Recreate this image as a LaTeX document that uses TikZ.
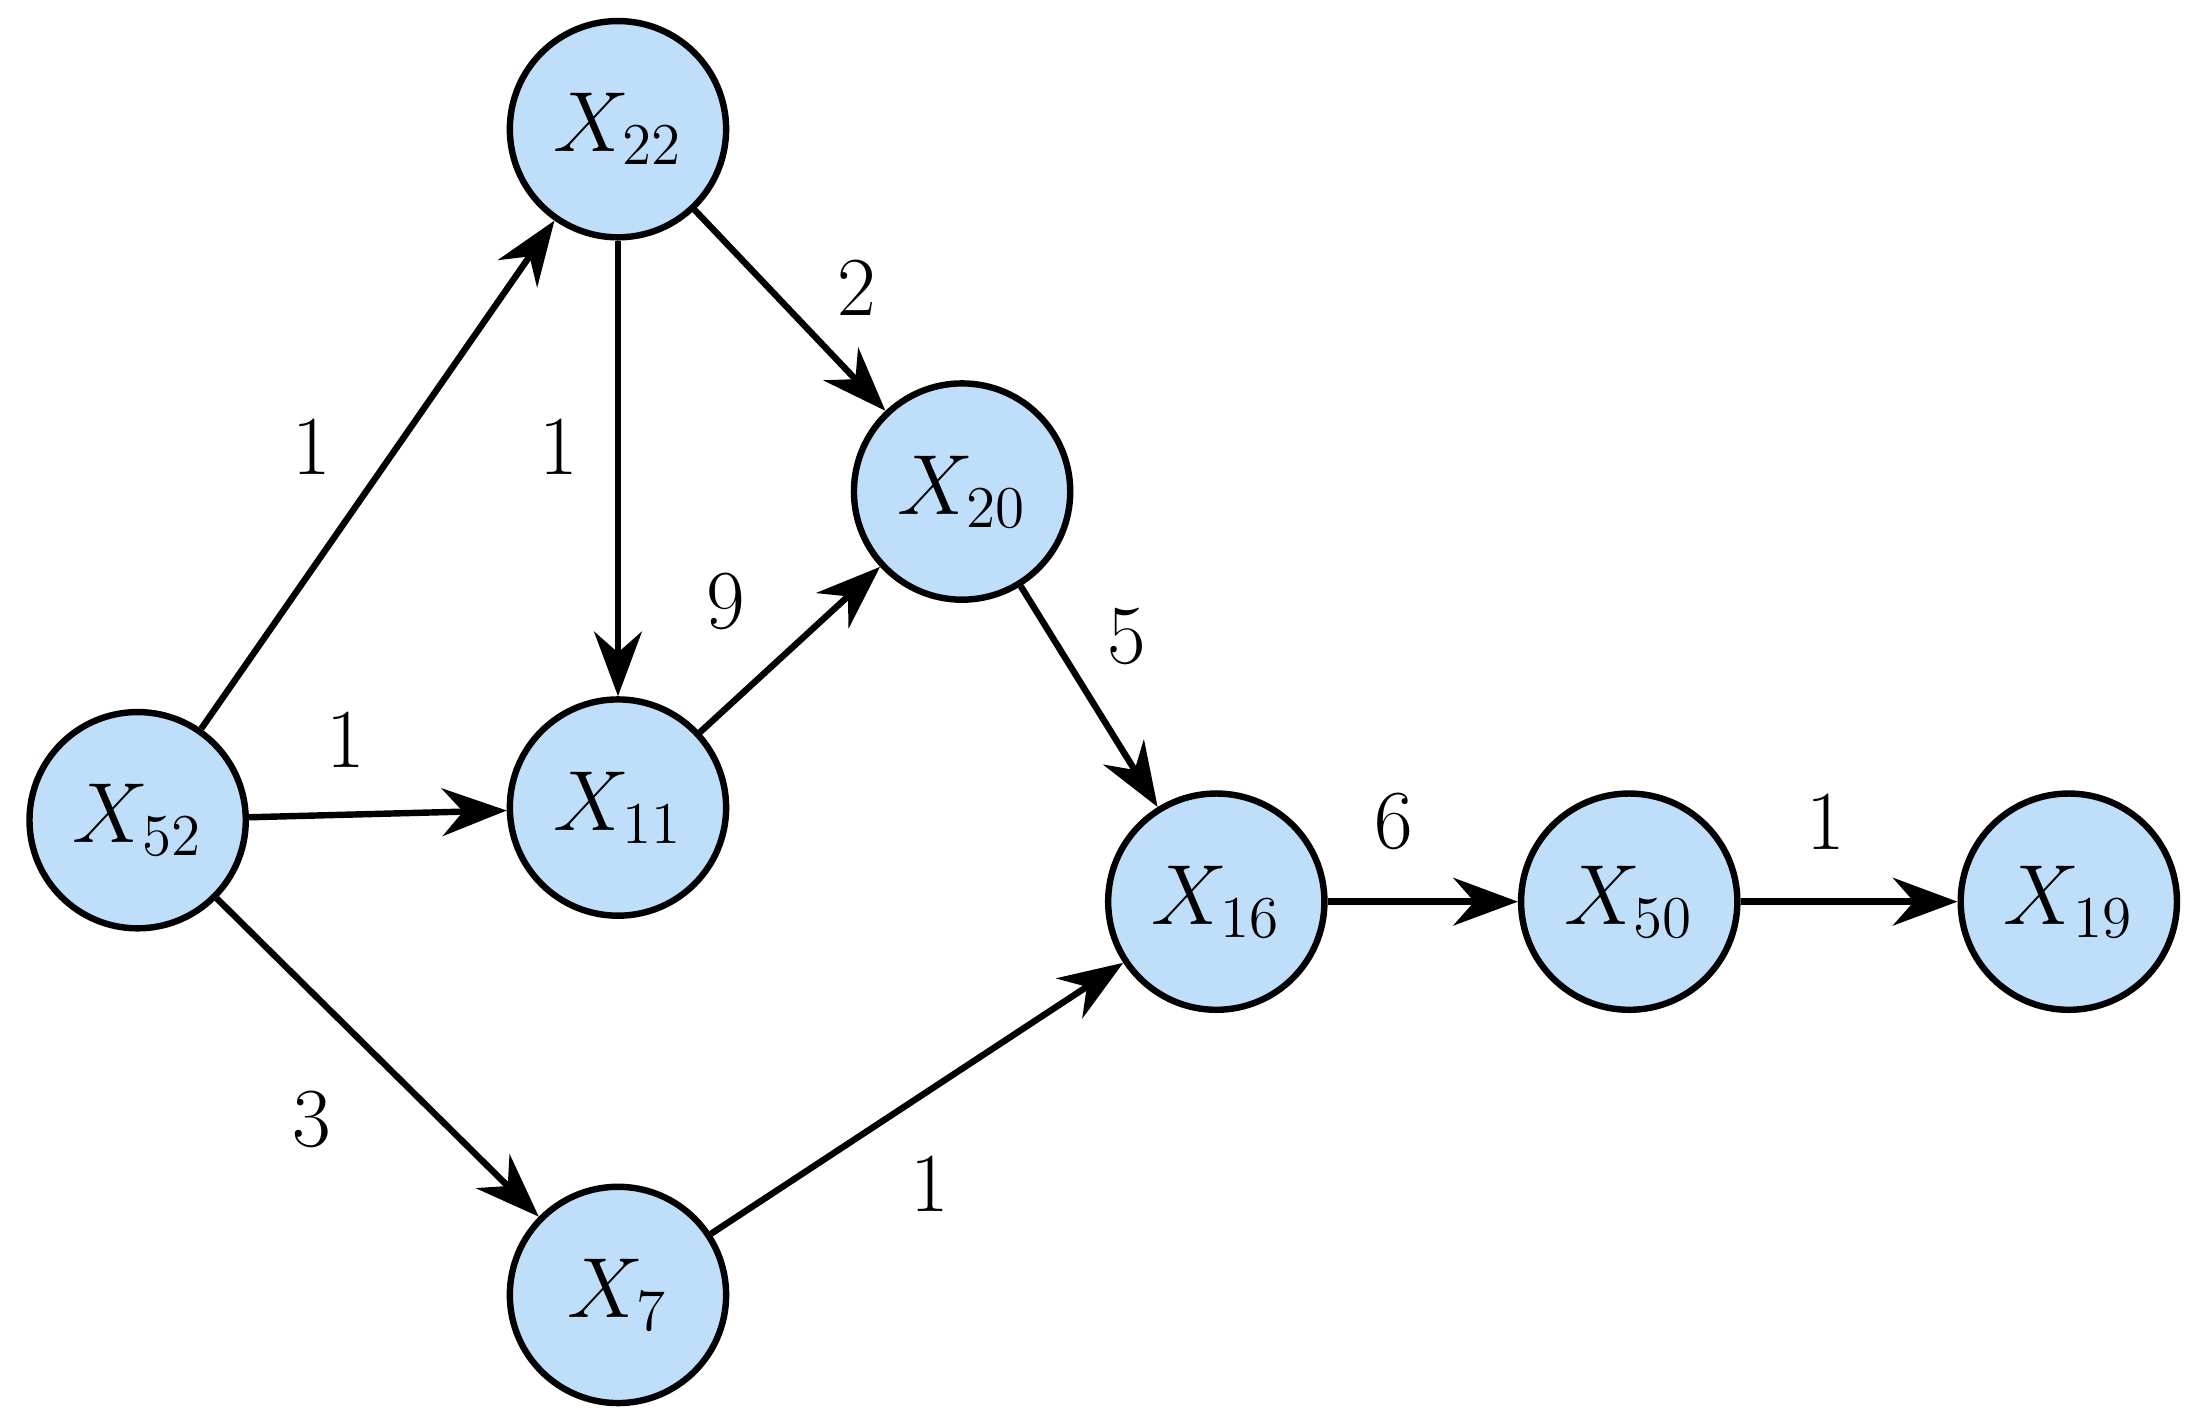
\documentclass[tikz,border=0pt]{standalone}
\usetikzlibrary{arrows.meta}
\definecolor{nodeblue}{RGB}{190,222,250}
\tikzset{
  state/.style={draw, circle, fill=nodeblue, line width=1.3pt, minimum size=1.54cm, inner sep=0pt, font=\fontsize{17}{20}\selectfont},
  wlabel/.style={font=\fontsize{17}{20}\selectfont},
  arc/.style={line width=1.3pt, -{Stealth[length=4.6mm, width=3.4mm]}}
}
\begin{document}
\begin{tikzpicture}
\useasboundingbox (0,0) rectangle (15.6,10.14);

\node[state] (x52) at (0.98,4.30) {$X_{52}$};
\node[state] (x22) at (4.40,9.22) {$X_{22}$};
\node[state] (x11) at (4.40,4.39) {$X_{11}$};
\node[state] (x20) at (6.85,6.64) {$X_{20}$};
\node[state] (x16) at (8.66,3.72) {$X_{16}$};
\node[state] (x50) at (11.60,3.72) {$X_{50}$};
\node[state] (x19) at (14.73,3.72) {$X_{19}$};
\node[state] (x7) at (4.40,0.92) {$X_{7}$};

\draw[arc] (x52) -- (x22);
\draw[arc] (x52) -- (x11);
\draw[arc] (x52) -- (x7);
\draw[arc] (x22) -- (x11);
\draw[arc] (x22) -- (x20);
\draw[arc] (x11) -- (x20);
\draw[arc] (x20) -- (x16);
\draw[arc] (x7) -- (x16);
\draw[arc] (x16) -- (x50);
\draw[arc] (x50) -- (x19);

\node[wlabel] (w1) at (2.22,6.96) {1};
\node[wlabel] (w2) at (3.98,6.96) {1};
\node[wlabel] (w3) at (6.10,8.09) {2};
\node[wlabel] (w4) at (5.17,5.86) {9};
\node[wlabel] (w5) at (2.46,4.87) {1};
\node[wlabel] (w6) at (8.02,5.61) {5};
\node[wlabel] (w7) at (2.22,2.17) {3};
\node[wlabel] (w8) at (6.62,1.71) {1};
\node[wlabel] (w9) at (9.92,4.29) {6};
\node[wlabel] (w10) at (13.00,4.29) {1};

\end{tikzpicture}
\end{document}
